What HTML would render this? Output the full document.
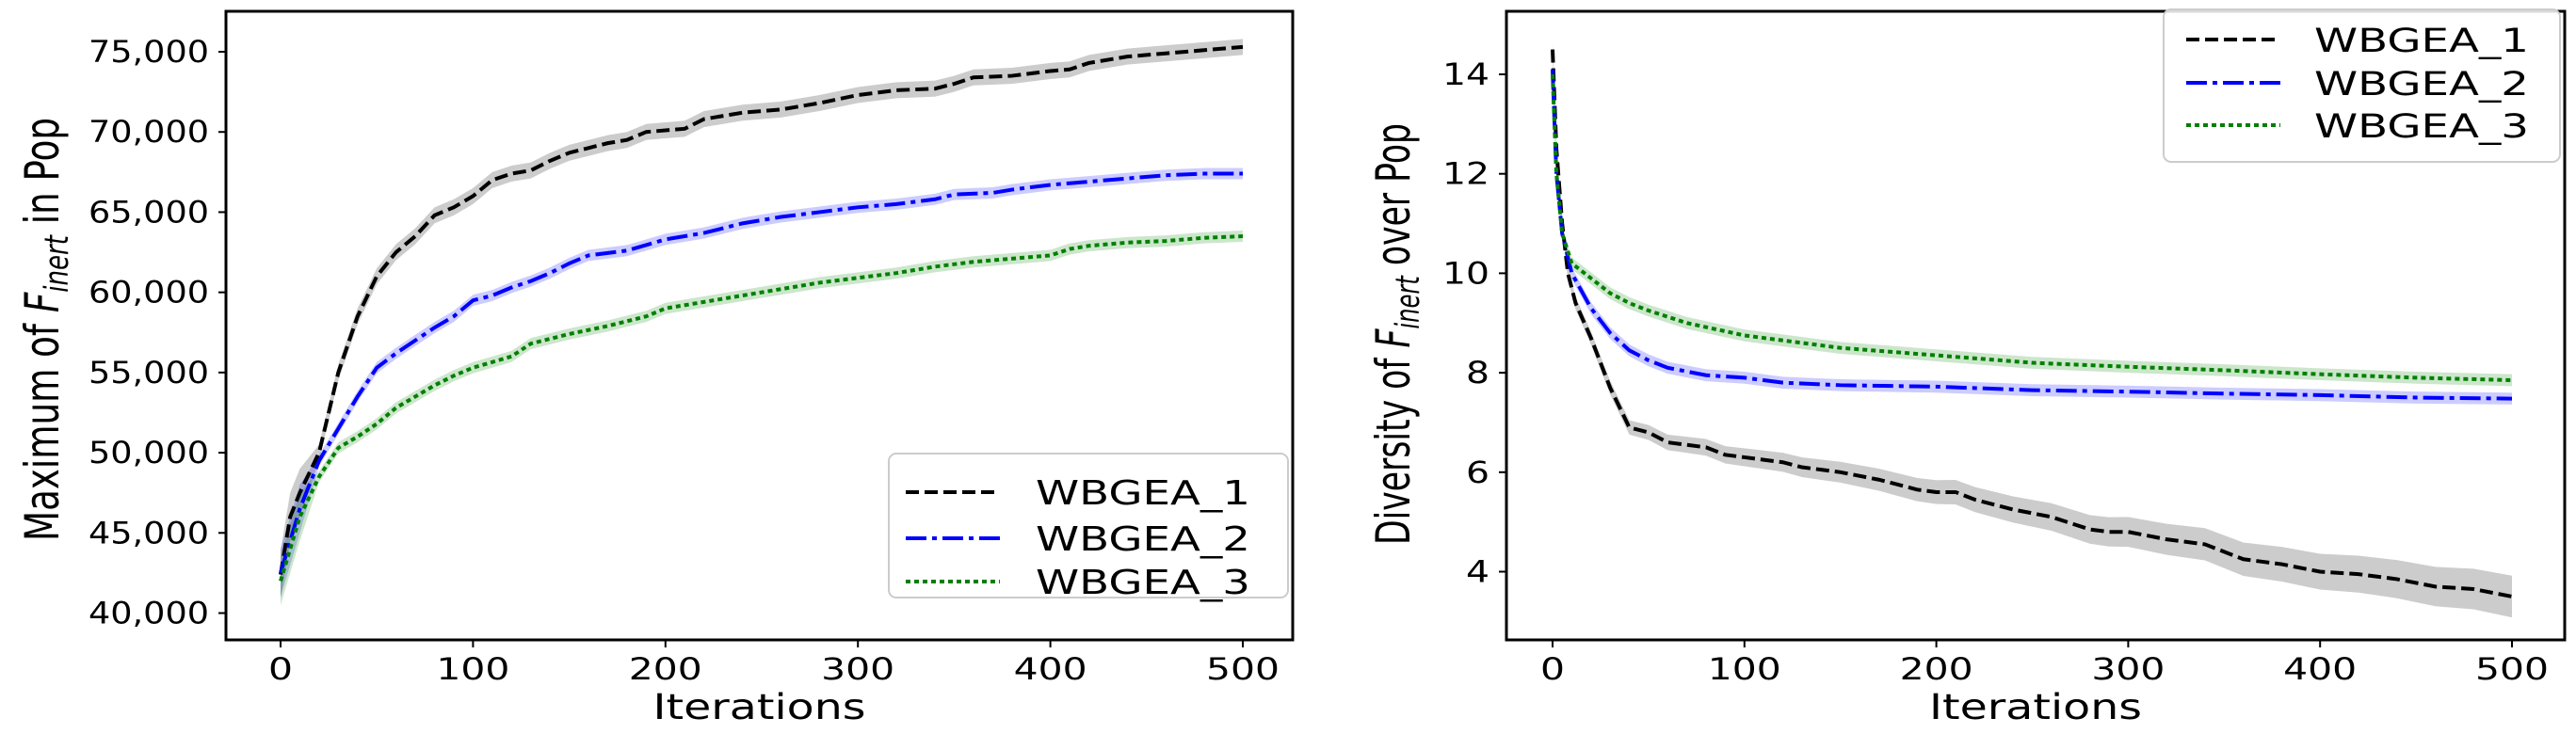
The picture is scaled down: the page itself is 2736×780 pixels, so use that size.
<!DOCTYPE html>
<html><head><meta charset="utf-8"><style>
html,body{margin:0;padding:0;background:#fff;}
svg{display:block;font-family:"DejaVu Sans","Liberation Sans",sans-serif;}
</style></head><body>
<svg id="fig" width="2736" height="780" viewBox="0 0 2736 780" xmlns="http://www.w3.org/2000/svg"></svg>
<script>
// ---- Left chart data ----
const iterA1 = [0,5,10,20,30,40,50,60,70,80,90,100,110,120,130,140,150,160,170,180,190,200,210,220,240,260,280,300,320,340,350,360,380,400,410,420,440,460,480,500];
const maxA1 = [42400,46000,47500,50000,55000,58500,61000,62500,63500,64800,65300,66000,67000,67400,67600,68200,68700,69000,69300,69500,70000,70100,70200,70800,71200,71400,71800,72300,72600,72700,73000,73400,73500,73800,73900,74300,74700,74900,75100,75300];
const iterA2 = [0,5,10,20,30,40,50,60,70,80,90,100,110,120,130,140,150,160,180,200,220,240,260,280,300,320,340,350,370,380,400,420,440,460,480,500];
const maxA2 = [42500,44500,46500,49500,51500,53500,55300,56200,57000,57800,58500,59500,59800,60300,60700,61200,61800,62300,62600,63300,63700,64300,64700,65000,65300,65500,65800,66100,66200,66400,66700,66900,67100,67300,67400,67400];
const iterA3 = [0,5,10,20,30,40,50,60,70,80,90,100,120,130,150,170,190,200,220,240,260,280,300,320,340,360,380,400,410,420,440,460,480,500];
const maxA3 = [42000,44000,46000,48500,50300,51000,51800,52800,53500,54200,54800,55300,56000,56800,57400,57900,58500,59000,59400,59800,60200,60600,60900,61200,61600,61900,62100,62300,62700,62900,63100,63200,63400,63500];
const yTicksL = [40000,45000,50000,55000,60000,65000,70000,75000];
const yTickLabelsL = ["40,000","45,000","50,000","55,000","60,000","65,000","70,000","75,000"];
// ---- Right chart data ----
const iterB1 = [0,2,5,8,12,20,30,40,50,60,70,80,90,100,110,120,130,140,150,170,190,200,210,220,240,260,280,290,300,320,340,360,380,400,420,440,460,480,500];
const divB1 = [14.5,12.5,11.0,10.0,9.4,8.7,7.7,6.9,6.8,6.6,6.55,6.5,6.35,6.3,6.25,6.2,6.1,6.05,6.0,5.85,5.65,5.6,5.6,5.45,5.25,5.1,4.85,4.8,4.8,4.65,4.55,4.25,4.15,4.0,3.95,3.85,3.7,3.65,3.5];
const iterB2 = [0,2,5,10,20,30,40,50,60,80,100,120,150,200,250,300,350,400,450,500];
const divB2 = [14.1,12.0,10.8,10.0,9.3,8.8,8.45,8.25,8.1,7.95,7.9,7.8,7.75,7.72,7.65,7.62,7.58,7.55,7.5,7.48];
const iterB3 = [0,2,5,10,20,30,40,50,70,100,150,200,250,300,350,400,450,500];
const divB3 = [14.0,12.0,10.8,10.2,9.9,9.6,9.4,9.25,9.0,8.75,8.5,8.35,8.2,8.12,8.05,7.97,7.9,7.85];
const yTicksR = [4,6,8,10,12,14];
const xTicks = [0,100,200,300,400,500];
const seriesNames = ["WBGEA_1","WBGEA_2","WBGEA_3"];

const NS="http://www.w3.org/2000/svg";
const svg=document.getElementById('fig');
function mk(tag,attrs,parent){const e=document.createElementNS(NS,tag);for(const k in attrs)e.setAttribute(k,attrs[k]);(parent||svg).appendChild(e);return e;}

const styles=[
 {c:"#000",band:"rgba(0,0,0,0.2)",dash:"14,6"},
 {c:"#0000ff",band:"rgba(0,0,255,0.2)",dash:"22,6,5,6"},
 {c:"#008000",band:"rgba(0,128,0,0.2)",dash:"5,4"}
];

function chart(cfg){
  const g=mk('g',{});
  
  
  const xs=v=>cfg.x0+(v-0)*(cfg.x500-cfg.x0)/500;
  const ys=v=>cfg.yA+(v-cfg.vA)*(cfg.yB-cfg.yA)/(cfg.vB-cfg.vA);
  cfg.series.forEach((s,i)=>{
    const st=styles[i];
    const up=s.x.map((t,j)=>xs(t)+","+ys(s.y[j]+s.w(t)));
    const dn=s.x.map((t,j)=>xs(t)+","+ys(s.y[j]-s.w(t))).reverse();
    const band=mk('polygon',{points:up.concat(dn).join(" "),fill:st.band,stroke:"none"},g);
    
    
  });
  cfg.series.forEach((s,i)=>{
    const st=styles[i];
    const pl=mk('polyline',{points:s.x.map((t,j)=>xs(t)+","+ys(s.y[j])).join(" "),fill:"none",stroke:st.c,"stroke-width":4,"stroke-dasharray":st.dash},g);
    
    
  });
  const fr=mk('rect',{x:cfg.L,y:cfg.T,width:cfg.R-cfg.L,height:cfg.B-cfg.T,fill:"none",stroke:"#000","stroke-width":3},g);
  
  
  xTicks.forEach(t=>{
    const x=xs(t);
    mk('line',{x1:x,y1:cfg.B,x2:x,y2:cfg.B+8,stroke:"#000","stroke-width":2},g);
    const tx=mk('text',{x:x,y:cfg.B+42,"font-size":32,"text-anchor":"middle",textLength:String(t).length*26,lengthAdjust:"spacingAndGlyphs"},g);
    tx.textContent=t;
    
    
  });
  cfg.yt.forEach((t,k)=>{
    const y=ys(t);
    mk('line',{x1:cfg.L-8,y1:y,x2:cfg.L,y2:y,stroke:"#000","stroke-width":2},g);
    const lab=cfg.ytl?cfg.ytl[k]:String(t);
    const tx=mk('text',{x:cfg.L-18,y:y+11,"font-size":32,"text-anchor":"end",textLength:cfg.ytl?128:lab.length*25,lengthAdjust:"spacingAndGlyphs"},g);
    tx.textContent=lab;
    
    
  });
  const xl=mk('text',{x:(cfg.L+cfg.R)/2,y:cfg.B+84,"font-size":37,"text-anchor":"middle",textLength:226,lengthAdjust:"spacingAndGlyphs"},g);
  xl.textContent="Iterations";
  
  
  const yl=mk('text',{transform:`translate(${cfg.ylx},${cfg.ylc}) rotate(-90)`,"font-size":50,"text-anchor":"middle",textLength:cfg.yllen,lengthAdjust:"spacingAndGlyphs"},g);
  
  
  const t1=mk('tspan',{},yl);t1.textContent=cfg.ylpre;
  const t2=mk('tspan',{"font-style":"italic"},yl);t2.textContent="F";
  const t3=mk('tspan',{"font-style":"italic","font-size":35,dy:10},yl);t3.textContent="inert";
  const t4=mk('tspan',{dy:-10},yl);t4.textContent=cfg.ylpost;
  const lg=mk('g',{},g);
  
  
  mk('rect',{x:cfg.lg.x,y:cfg.lg.y,width:cfg.lg.w,height:cfg.lg.h,rx:8,fill:"rgba(255,255,255,0.85)",stroke:"#ccc","stroke-width":2},lg);
  seriesNames.forEach((n,i)=>{
    const y=cfg.lg.rows[i];
    const e=mk('g',{},lg);
    
    
    mk('line',{x1:cfg.lg.l1,y1:y,x2:cfg.lg.l1+100,y2:y,stroke:styles[i].c,"stroke-width":4,"stroke-dasharray":styles[i].dash},e);
    const tx=mk('text',{x:cfg.lg.tx,y:y+13,"font-size":cfg.lg.fs,textLength:228,lengthAdjust:"spacingAndGlyphs"},e);
    tx.textContent=n;
  });
}

const wA=t=>t<20?1500:350, wA1=t=>t<20?1500:500;
chart({name:"left-chart",L:240,R:1373,T:12,B:680,x0:298,x500:1320,vA:40000,yA:651.5,vB:75000,yB:55,
  yt:yTicksL,ytl:yTickLabelsL,
  series:[{x:iterA1,y:maxA1,w:wA1},{x:iterA2,y:maxA2,w:wA},{x:iterA3,y:maxA3,w:wA}],
  ylx:62,ylc:350,yllen:450,ylpre:"Maximum of ",ylpost:" in Pop",
  lg:{x:944,y:482,w:424,h:153,rows:[523,572,618],l1:962,tx:1100,fs:36}});
chart({name:"right-chart",L:1600,R:2724,T:12,B:680,x0:1649,x500:2668,vA:14,yA:79,vB:4,yB:607.5,
  yt:yTicksR,
  series:[{x:iterB1,y:divB1,w:t=>0.12+t*0.0006},{x:iterB2,y:divB2,w:t=>0.12},{x:iterB3,y:divB3,w:t=>0.12}],
  ylx:1497,ylc:355,yllen:448,ylpre:"Diversity of ",ylpost:" over Pop",
  lg:{x:2298,y:10,w:421,h:162,rows:[42,88,133],l1:2322,tx:2458,fs:35}});
</script>
</body></html>
